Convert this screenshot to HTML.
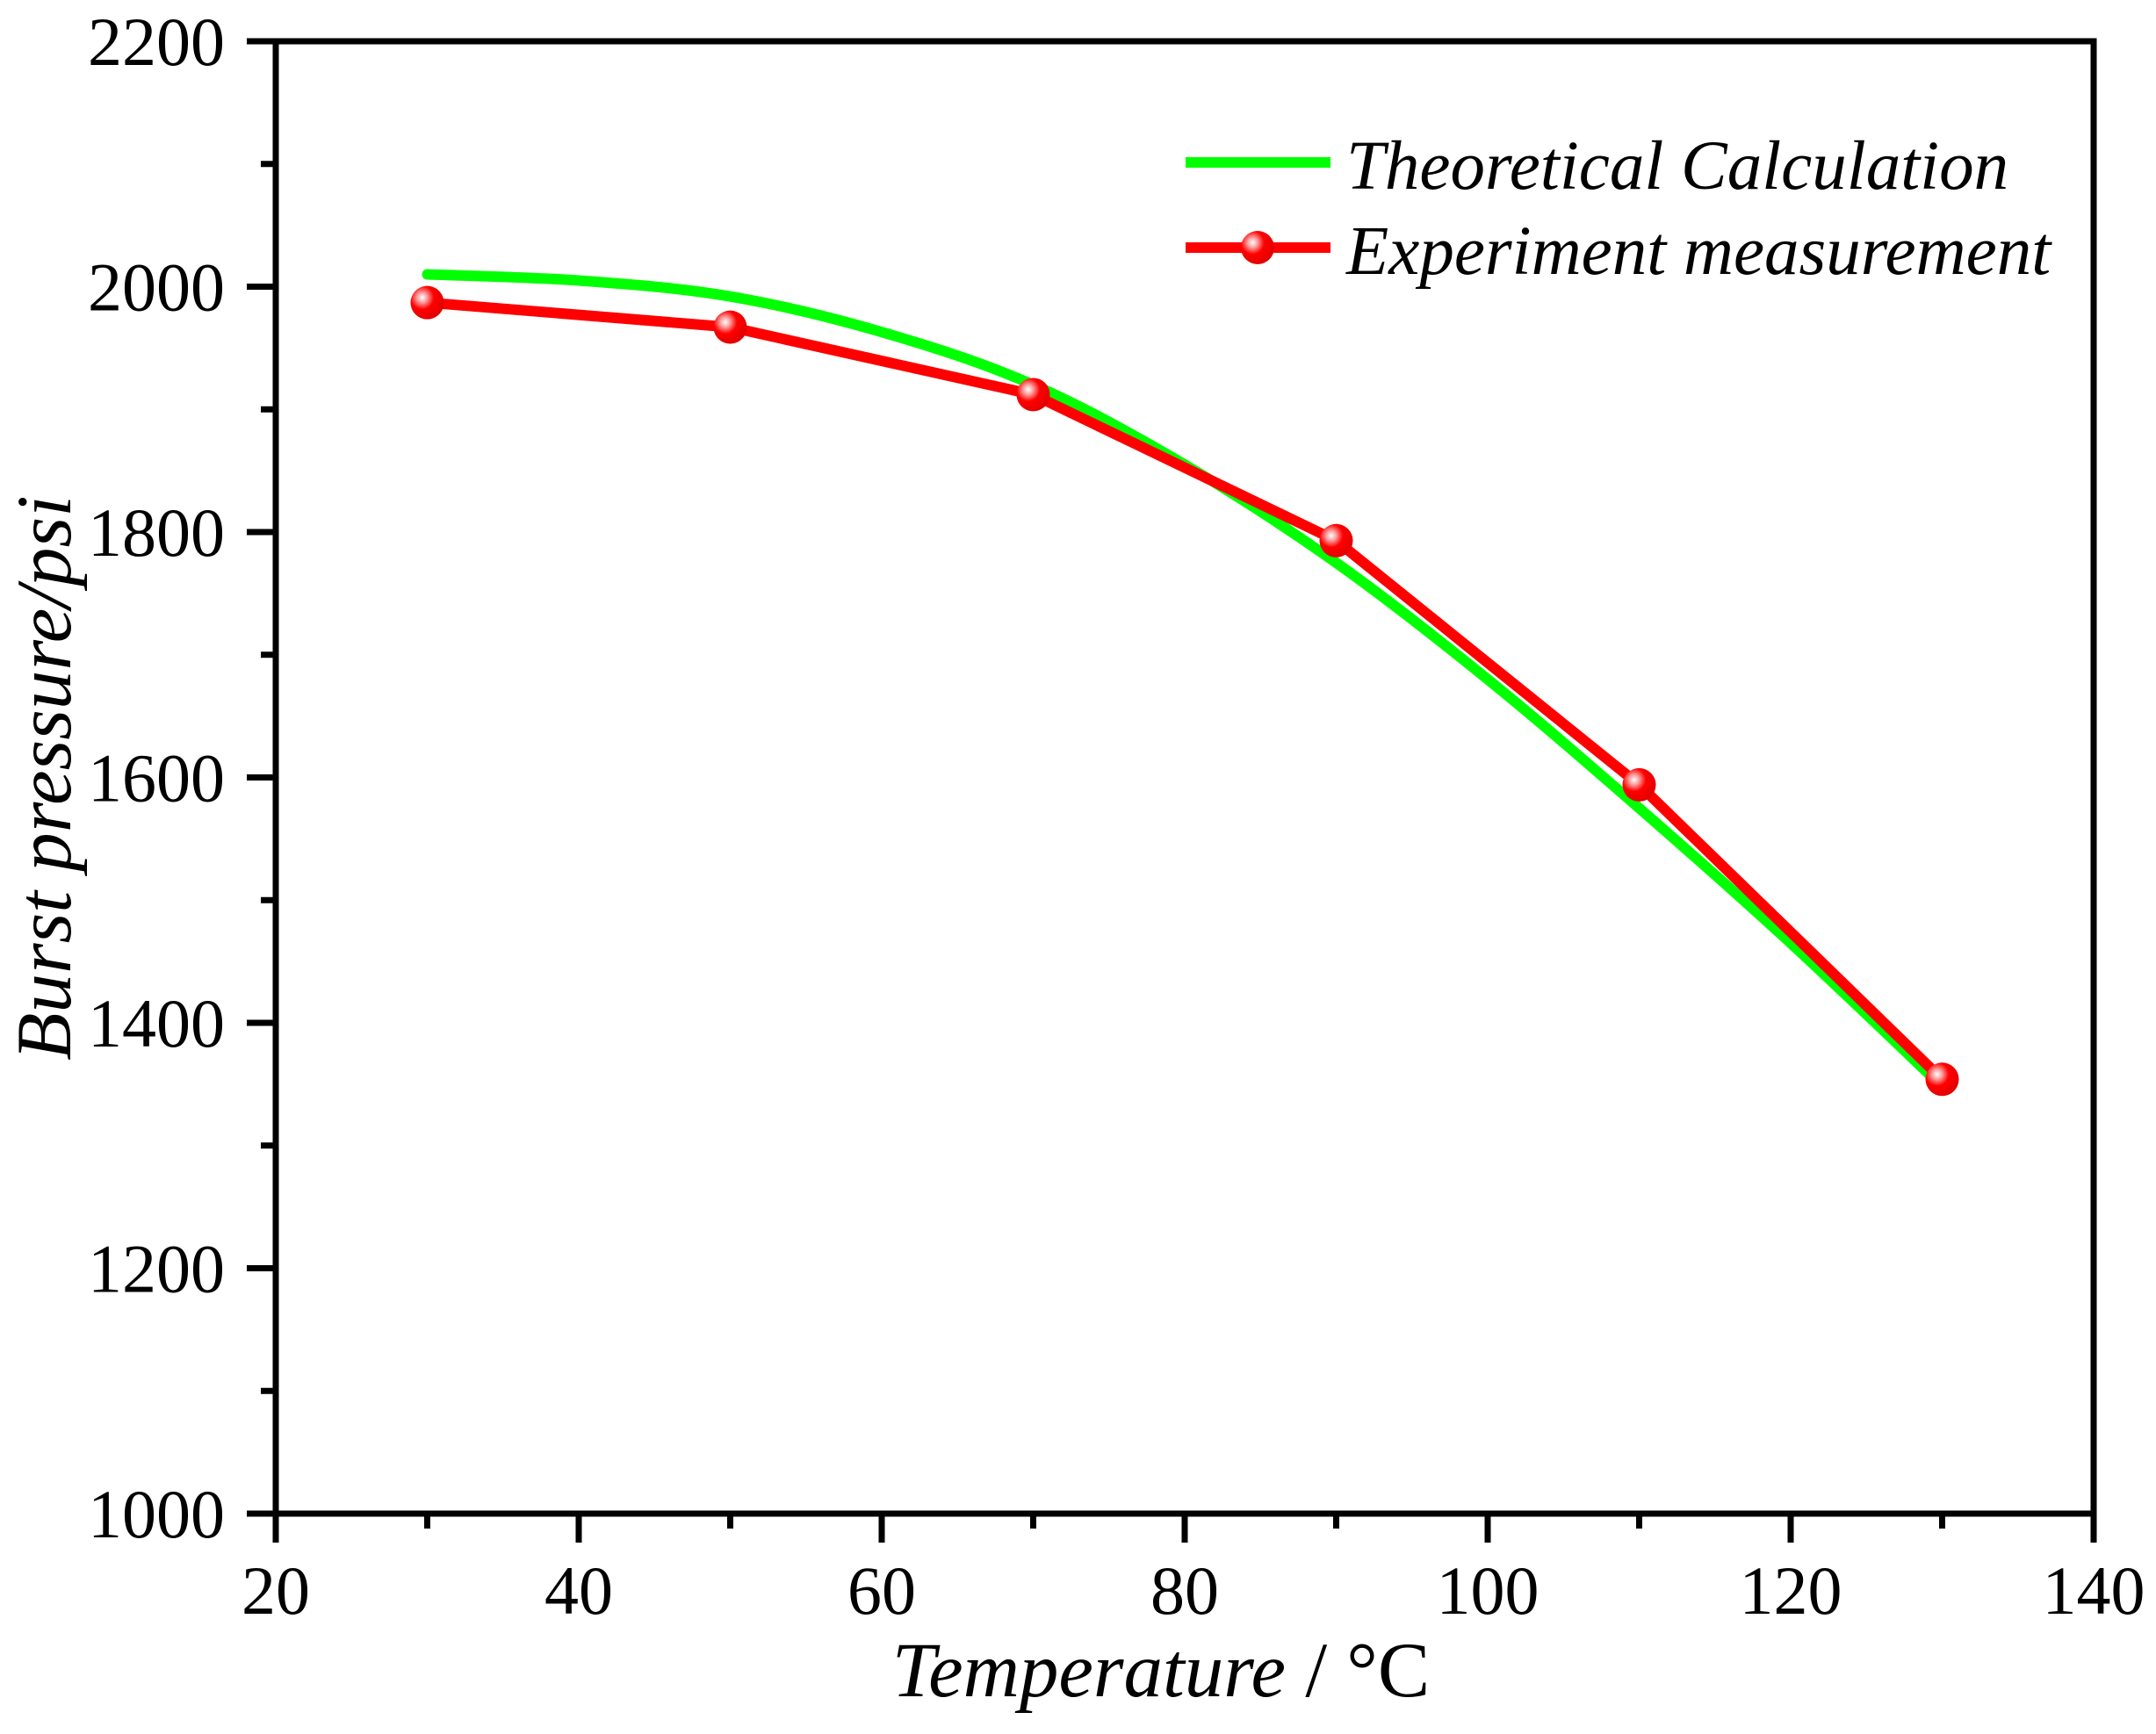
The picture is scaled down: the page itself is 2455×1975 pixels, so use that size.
<!DOCTYPE html>
<html><head><meta charset="utf-8"><style>
html,body{margin:0;padding:0;background:#fff}
svg{display:block}
text{font-family:"Liberation Serif",serif;fill:#000}
</style></head><body>
<svg id="chart" width="2455" height="1975" viewBox="0 0 2455 1975" xmlns="http://www.w3.org/2000/svg">
<defs>
<radialGradient id="ball" cx="0.35" cy="0.35" r="0.7">
<stop offset="0" stop-color="#fff"/><stop offset="0.22" stop-color="#ff9a9a"/><stop offset="0.5" stop-color="#ff0000"/><stop offset="1" stop-color="#e00000"/>
</radialGradient>
</defs>
<g id="plot"></g>
</svg>
<script>
const xTicks = [20,40,60,80,100,120,140];
const yTicks = [1000,1200,1400,1600,1800,2000,2200];
const expX = [30,50,70,90,110,130];
const expY = [1987,1967,1912,1793,1594,1354];
const theoX = [30,40,50,60,70,80,90,100,110,120,130];
const theoY = [2010,2005,1992,1963,1920,1855,1775,1680,1575,1465,1348];

const L=314,R=2384,T=47,B=1724;
const xMin=20,xMax=140,yMin=1000,yMax=2200;
function sx(v){return L+(v-xMin)/(xMax-xMin)*(R-L);}
function sy(v){return B-(v-yMin)/(yMax-yMin)*(B-T);}
const NS="http://www.w3.org/2000/svg";
const g=document.getElementById('plot');
function mk(tag,attrs,parent){const e=document.createElementNS(NS,tag);for(const k in attrs)e.setAttribute(k,attrs[k]);(parent||g).appendChild(e);return e;}

function smoothPath(xs,ys){
  const p=xs.map((x,i)=>[sx(x),sy(ys[i])]);
  let d=`M${p[0][0]},${p[0][1]}`;
  for(let i=0;i<p.length-1;i++){
    const p0=p[i-1]||p[i],p1=p[i],p2=p[i+1],p3=p[i+2]||p2;
    d+=` C${p1[0]+(p2[0]-p0[0])/6},${p1[1]+(p2[1]-p0[1])/6} ${p2[0]-(p3[0]-p1[0])/6},${p2[1]-(p3[1]-p1[1])/6} ${p2[0]},${p2[1]}`;
  }
  return d;
}
let e=mk('path',{d:smoothPath(theoX,theoY),fill:'none',stroke:'#00ff00','stroke-width':12,'stroke-linecap':'round'});



e=mk('polyline',{points:expX.map((x,i)=>sx(x)+','+sy(expY[i])).join(' '),fill:'none',stroke:'#ff0000','stroke-width':12,'stroke-linejoin':'round'});


expX.forEach((x,i)=>{
  const c=mk('circle',{cx:sx(x),cy:sy(expY[i]),r:19,fill:'url(#ball)'});
  
  
});

e=mk('rect',{x:L,y:T,width:R-L,height:B-T,fill:'none',stroke:'#000','stroke-width':7});



for(let v=xMin;v<=xMax;v+=10){
  const major=(v%20===0);
  const t=mk('line',{x1:sx(v),x2:sx(v),y1:B,y2:B+(major?33:17),stroke:'#000','stroke-width':7});
  
  
}
xTicks.forEach(v=>{
  const t=mk('text',{x:sx(v),y:1838,'font-size':78,'text-anchor':'middle'});
  t.textContent=v;
  
  
});
for(let v=yMin;v<=yMax;v+=100){
  const major=(v%200===0);
  const t=mk('line',{x1:L-(major?33:17),x2:L,y1:sy(v),y2:sy(v),stroke:'#000','stroke-width':7});
  
  
}
yTicks.forEach(v=>{
  const t=mk('text',{x:256,y:sy(v)+27,'font-size':78,'text-anchor':'end'});
  t.textContent=v;
  
  
});

e=mk('text',{x:1322,y:1932,'font-size':89,'text-anchor':'middle'});
e.innerHTML='<tspan font-style="italic">Temperature</tspan> / °C';


e=mk('text',{x:0,y:0,'font-size':89,'text-anchor':'middle','font-style':'italic',transform:'translate(80,886) rotate(-90)'});
e.textContent='Burst pressure/psi';



e=mk('line',{x1:1350,x2:1515,y1:185,y2:185,stroke:'#00ff00','stroke-width':12});


e=mk('text',{x:1533,y:215,'font-size':79,'font-style':'italic'});
e.textContent='Theoretical Calculation';


e=mk('line',{x1:1350,x2:1515,y1:282,y2:282,stroke:'#ff0000','stroke-width':12});


e=mk('circle',{cx:1432,cy:282,r:19,fill:'url(#ball)'});


e=mk('text',{x:1533,y:312,'font-size':79,'font-style':'italic'});
e.textContent='Experiment measurement';


</script>
</body></html>
